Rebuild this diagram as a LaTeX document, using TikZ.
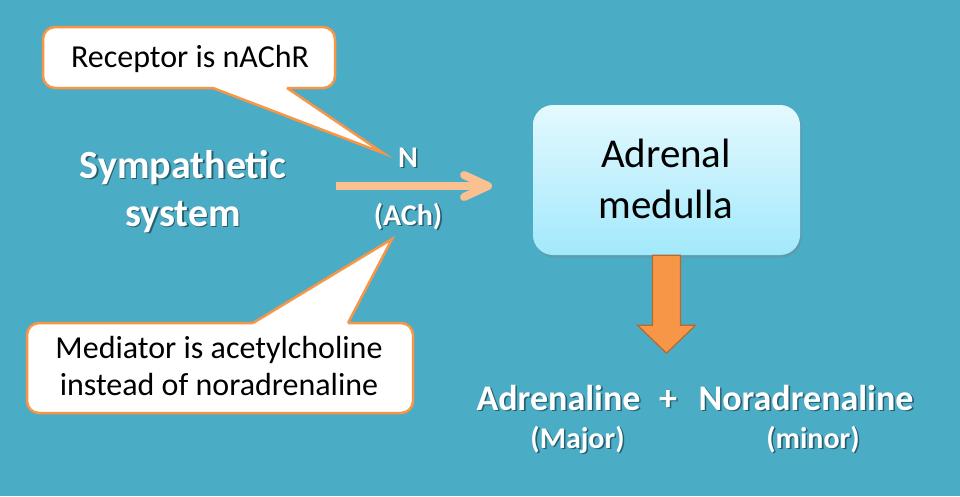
\documentclass[tikz,border=0pt]{standalone}
\usepackage{fontspec}
\setmainfont{Carlito}
\usetikzlibrary{shadows,calc}
\definecolor{bg}{HTML}{4BACC6}
\definecolor{calloutc}{HTML}{F79646}
\definecolor{thinarrow}{HTML}{FAC090}
\definecolor{blockfill}{HTML}{F79646}
\definecolor{blockdraw}{HTML}{B8692E}
\definecolor{boxtop}{HTML}{E4F9FE}
\definecolor{boxbot}{HTML}{A2E9FC}
\newcommand\stx[4]{%
  \node[#1,text=black,opacity=.45,xshift=1.6pt,yshift=-1.6pt] at (#3) {#4};
  \node[#1,text=white] (#2) at (#3) {#4};}
\tikzset{
  calloutbox/.style={fill=white,draw=calloutc,line width=2.5pt,rounded corners=12pt},
  pointerline/.style={calloutc,line width=2.5pt,line join=miter},
  callouttext/.style={anchor=base,inner sep=0pt,font=\fontsize{32}{38}\selectfont},
  bigbold/.style={anchor=base,inner sep=0pt,font=\bfseries\fontsize{40}{47}\selectfont},
  prodbold/.style={anchor=base,inner sep=0pt,font=\bfseries\fontsize{36}{42}\selectfont},
  smallbold/.style={anchor=base,inner sep=0pt,font=\bfseries\fontsize{30}{36}\selectfont},
  medbox/.style={minimum width=267pt,minimum height=150pt,rounded corners=20pt,
    top color=boxtop,bottom color=boxbot,
    drop shadow={shadow xshift=1.5pt,shadow yshift=-2.5pt,opacity=.35}},
  boxtext/.style={anchor=base,inner sep=0pt,font=\fontsize{41}{48}\selectfont},
  blockarrow/.style={fill=blockfill,draw=blockdraw,line width=1.2pt,line join=miter},
}
\begin{document}
\begin{tikzpicture}[x=1pt,y=-1pt]
\fill[bg] (0,0) rectangle (960,496);
\useasboundingbox (0,0) rectangle (960,496);

% callout 1
\draw[calloutbox] (43,27) rectangle (335,88);
\coordinate (tip1) at (383,153);
\fill[white] (213,83) -- (213,88) -- (tip1) -- (287,88) -- (287,83) -- cycle;
\draw[pointerline] (213,88) -- (tip1) -- (287,88);
\node[callouttext] (rec) at (190,67) {Receptor is nAChR};

% callout 2
\draw[calloutbox] (27,323) rectangle (413,413);
\coordinate (tip2) at (392,239);
\fill[white] (253,328) -- (253,323) -- (tip2) -- (348,323) -- (348,328) -- cycle;
\draw[pointerline] (253,323) -- (tip2) -- (348,323);
\node[callouttext] (med1) at (219,358) {Mediator is acetylcholine};
\node[callouttext] (med2) at (219,395) {instead of noradrenaline};

% sympathetic
\stx{bigbold}{sym1}{183,178}{Sympathetic}
\stx{bigbold}{sym2}{183,226}{system}

% thin arrow
\coordinate (a1) at (336,186);
\coordinate (a2) at (488,186);
\draw[thinarrow,line width=8pt] (a1) -- ($(a2)+(-3,0)$);
\draw[thinarrow,line width=8pt,line cap=round,line join=round]
  ($(a2)+(-24,-11)$) -- (a2) -- ($(a2)+(-24,11)$);
\stx{smallbold}{nlab}{408,167}{N}
\stx{smallbold}{achlab}{408,225}{(ACh)}

% adrenal medulla
\node[medbox] (adm) at (666.5,180) {};
\node[boxtext] (adm1) at (666,167) {Adrenal};
\node[boxtext] (adm2) at (666,218) {medulla};

% block arrow
\draw[blockarrow] (adm.south) ++(-14,0) -- ++(0,70) -- ++(-15,0) -- ++(29,28)
  -- ++(29,-28) -- ++(-15,0) -- ++(0,-70) -- cycle;

% products
\stx{prodbold}{adr}{558.5,410}{Adrenaline}
\stx{prodbold}{plus}{668,410}{+}
\stx{prodbold}{nor}{806,410}{Noradrenaline}
\stx{smallbold}{major}{577.5,448}{(Major)}
\stx{smallbold}{minor}{813,448}{(minor)}
\end{tikzpicture}
\end{document}
